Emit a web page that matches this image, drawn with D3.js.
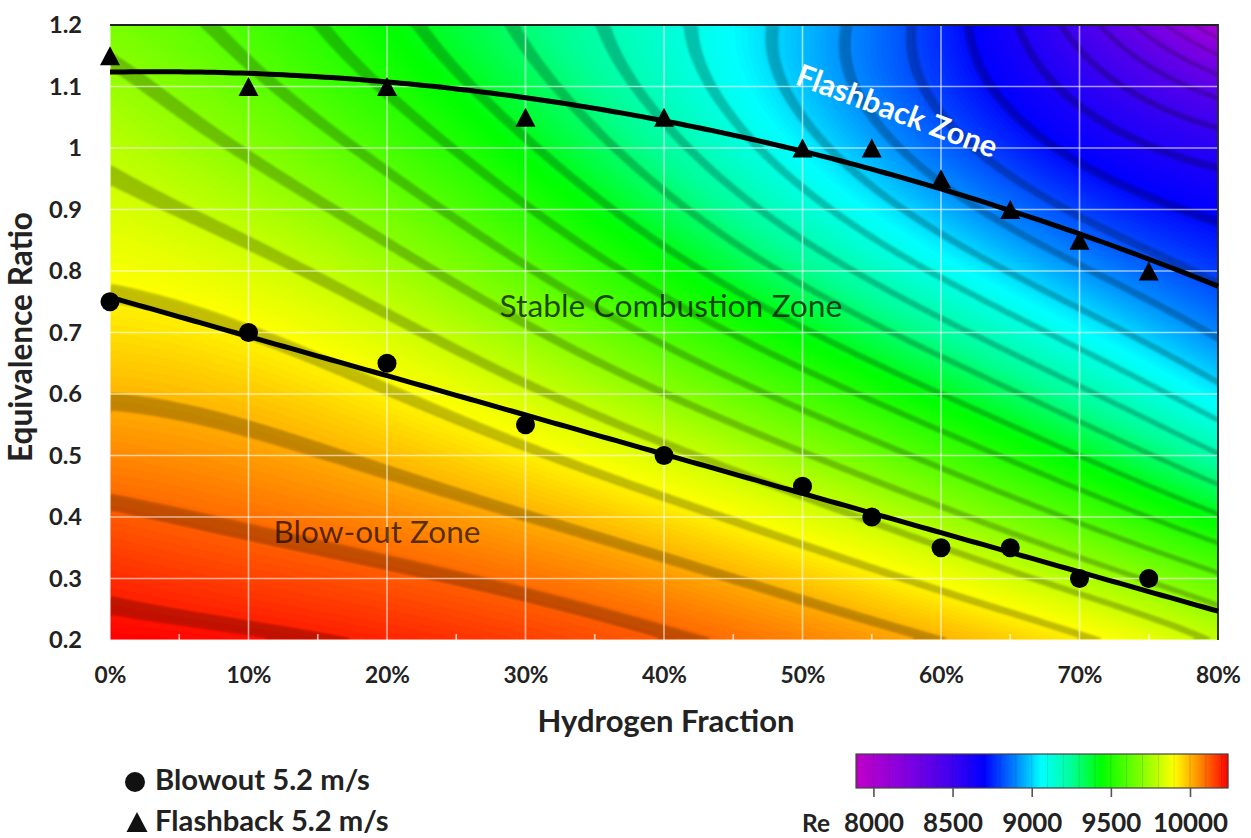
<!DOCTYPE html>
<html>
<head>
<meta charset="utf-8">
<script src="https://cdn.jsdelivr.net/npm/d3@7"></script>
<style>
  html, body { margin: 0; padding: 0; background: #fff; }
  svg { display: block; font-family: Lato, "Open Sans", "DejaVu Sans", sans-serif; }
</style>
</head>
<body>
<svg id="chart" width="1251" height="838"></svg>
<script>
// ---- Data ---------------------------------------------------------------
// Reynolds number map: columns = hydrogen fraction (%), rows = equivalence ratio
const h2Fractions = [0, 10, 20, 30, 40, 50, 60, 70, 80];
const phiLevels = [0.2, 0.3, 0.4, 0.5, 0.6, 0.7, 0.8, 0.9, 1.0, 1.1, 1.2];
const reynolds = [
  [10240, 10215, 10195, 10165, 10125, 10065, 10000, 9930, 9790],  // phi 0.2
  [10185, 10160, 10125, 10085, 10040, 9970, 9900, 9775, 9640],    // phi 0.3
  [10125, 10095, 10060, 10010, 9940, 9830, 9720, 9560, 9410],     // phi 0.4
  [10060, 10030, 9985, 9915, 9820, 9710, 9570, 9420, 9220],       // phi 0.5
  [10000, 9970, 9920, 9840, 9730, 9600, 9440, 9240, 9020],        // phi 0.6
  [9945, 9905, 9840, 9740, 9590, 9440, 9240, 9070, 8900],         // phi 0.7
  [9890, 9845, 9740, 9605, 9445, 9255, 9070, 8935, 8820],         // phi 0.8
  [9840, 9775, 9650, 9510, 9330, 9120, 8930, 8790, 8660],         // phi 0.9
  [9785, 9700, 9575, 9430, 9250, 9060, 8860, 8685, 8540],         // phi 1.0
  [9730, 9630, 9500, 9355, 9190, 9000, 8790, 8590, 8390],         // phi 1.1
  [9680, 9565, 9440, 9300, 9140, 8960, 8710, 8500, 8000]          // phi 1.2
];

// Measured stability limits at 5.2 m/s
const blowoutH2 = [0, 10, 20, 30, 40, 50, 55, 60, 65, 70, 75];
const blowoutPhi = [0.75, 0.70, 0.65, 0.55, 0.50, 0.45, 0.40, 0.35, 0.35, 0.30, 0.30];
const flashbackH2 = [0, 10, 20, 30, 40, 50, 55, 60, 65, 70, 75];
const flashbackPhi = [1.15, 1.10, 1.10, 1.05, 1.05, 1.00, 1.00, 0.95, 0.90, 0.85, 0.80];

// Axis ticks
const xTicks = [0, 10, 20, 30, 40, 50, 60, 70, 80];
const xMinorTicks = [5, 15, 25, 35, 45, 55, 65, 75];
const yTicks = [0.2, 0.3, 0.4, 0.5, 0.6, 0.7, 0.8, 0.9, 1.0, 1.1, 1.2];
const reTicks = [8000, 8500, 9000, 9500, 10000];

// Colour map for Re
const reStops  = [7890, 8215, 8490, 8700, 8890, 9060, 9250, 9440, 9690, 9900, 10030, 10240];
const reColors = ["#c000c8", "#8000e0", "#4000f0", "#0000ff", "#0080ff", "#00ffff",
                  "#00ff99", "#00ff00", "#80ff00", "#ffff00", "#ffa000", "#ff0000"];
const reLevelStep = 100;   // iso-Re line spacing

// ---- Layout -------------------------------------------------------------
const plot = { left: 110, right: 1218, top: 25, bottom: 640 };
const svg = d3.select("#chart");

const x = d3.scaleLinear().domain([0, 80]).range([plot.left, plot.right]);
const y = d3.scaleLinear().domain([0.2, 1.2]).range([plot.bottom, plot.top]);
const color = d3.scaleLinear().domain(reStops).range(reColors)
  .interpolate(d3.interpolateRgb).clamp(true);

const defs = svg.append("defs");
defs.append("clipPath").attr("id", "plotClip")
  .append("rect")
  .attr("x", plot.left).attr("y", plot.top)
  .attr("width", plot.right - plot.left).attr("height", plot.bottom - plot.top);
defs.append("filter").attr("id", "soft")
  .attr("x", "-5%").attr("y", "-5%").attr("width", "110%").attr("height", "110%")
  .append("feGaussianBlur").attr("stdDeviation", 1.2);

// ---- Linear algebra helper ------------------------------------------------
function solve(M, b) {
  const n = b.length;
  const A = M.map((row, i) => row.concat([b[i]]));
  for (let c = 0; c < n; c++) {
    let p = c;
    for (let r = c + 1; r < n; r++) if (Math.abs(A[r][c]) > Math.abs(A[p][c])) p = r;
    const tmp = A[c]; A[c] = A[p]; A[p] = tmp;
    for (let r = 0; r < n; r++) {
      if (r === c) continue;
      const f = A[r][c] / A[c][c];
      for (let k = c; k <= n; k++) A[r][k] -= f * A[c][k];
    }
  }
  return A.map((row, i) => row[n] / row[i]);
}
function leastSquares(basisRows, targets) {
  const m = basisRows[0].length;
  const M = Array.from({ length: m }, () => new Array(m).fill(0));
  const b = new Array(m).fill(0);
  basisRows.forEach((row, k) => {
    for (let r = 0; r < m; r++) {
      b[r] += row[r] * targets[k];
      for (let c = 0; c < m; c++) M[r][c] += row[r] * row[c];
    }
  });
  return solve(M, b);
}

// ---- Smooth Re surface (least-squares fit through the grid) ------------
const hSpan = d3.extent(h2Fractions), pSpan = d3.extent(phiLevels);
const surfTerms = [];
for (let a = 0; a <= 4; a++) for (let b = 0; b <= 4; b++) surfTerms.push([a, b]);
const surfBasis = (h, phi) => {
  const u = (h - hSpan[0]) / (hSpan[1] - hSpan[0]);
  const v = (phi - pSpan[0]) / (pSpan[1] - pSpan[0]);
  return surfTerms.map(([a, b]) => Math.pow(u, a) * Math.pow(v, b));
};
const gridRows = [], gridVals = [];
phiLevels.forEach((phi, j) => h2Fractions.forEach((h, i) => {
  gridRows.push(surfBasis(h, phi));
  gridVals.push(reynolds[j][i]);
}));
const surfCoef = leastSquares(gridRows, gridVals);
const reAt = (h, phi) => surfBasis(h, phi).reduce((s, t, k) => s + t * surfCoef[k], 0);

// sample the surface on a fine raster covering the plot
const cell = 4;
const gw = Math.ceil((plot.right - plot.left) / cell);
const gh = Math.ceil((plot.bottom - plot.top) / cell);
const cw = (plot.right - plot.left) / gw, ch = (plot.bottom - plot.top) / gh;
const values = new Float64Array(gw * gh);
for (let j = 0; j < gh; j++) {
  const phi = y.invert(plot.top + (j + 0.5) * ch);
  for (let i = 0; i < gw; i++) {
    const h = x.invert(plot.left + (i + 0.5) * cw);
    values[j * gw + i] = reAt(h, phi);
  }
}
const contours = d3.contours().size([gw, gh]);
const gridToPx = d3.geoTransform({
  point(px, py) { this.stream.point(plot.left + px * cw, plot.top + py * ch); }
});
const geo = d3.geoPath(gridToPx);

const field = svg.append("g").attr("clip-path", "url(#plotClip)");
const vMin = d3.min(values), vMax = d3.max(values);
field.append("rect")
  .attr("x", plot.left).attr("y", plot.top)
  .attr("width", plot.right - plot.left).attr("height", plot.bottom - plot.top)
  .attr("fill", color(vMin));
const fillStep = 8;
const fillLevels = d3.range(Math.ceil(vMin / fillStep) * fillStep, vMax, fillStep);
field.append("g").selectAll("path")
  .data(fillLevels)
  .join("path")
  .attr("d", t => geo(contours.contour(values, t)))
  .attr("fill", t => color(t + fillStep / 2))
  .attr("stroke", t => color(t + fillStep / 2))
  .attr("stroke-width", 0.6);

// darker iso-Re bands
const bandWidth = 17;
const bandLevels = d3.range(Math.ceil(vMin / reLevelStep) * reLevelStep, vMax, reLevelStep);
field.append("g")
  .attr("filter", "url(#soft)")
  .selectAll("path")
  .data(bandLevels)
  .join("path")
  .attr("d", t => geo(contours.contour(values, t)) + geo(contours.contour(values, t + bandWidth)))
  .attr("fill-rule", "evenodd")
  .attr("fill", "#000")
  .attr("fill-opacity", 0.24);

// ---- Gridlines ----------------------------------------------------------
const grid = svg.append("g").attr("clip-path", "url(#plotClip)");
grid.selectAll("line.v").data(xTicks).join("line")
  .attr("x1", d => x(d)).attr("x2", d => x(d))
  .attr("y1", plot.top).attr("y2", plot.bottom)
  .attr("stroke", "#fff").attr("stroke-opacity", 0.6).attr("stroke-width", 1.6);
grid.selectAll("line.h").data(yTicks).join("line")
  .attr("y1", d => y(d)).attr("y2", d => y(d))
  .attr("x1", plot.left).attr("x2", plot.right)
  .attr("stroke", "#fff").attr("stroke-opacity", 0.6).attr("stroke-width", 1.6);
grid.selectAll("line.m").data(xMinorTicks).join("line")
  .attr("x1", d => x(d)).attr("x2", d => x(d))
  .attr("y1", plot.bottom - 6).attr("y2", plot.bottom)
  .attr("stroke", "#fff").attr("stroke-opacity", 0.7).attr("stroke-width", 1.6);

// plot frame (top and right edges)
svg.append("path")
  .attr("d", `M${plot.left},${plot.top}H${plot.right}V${plot.bottom}`)
  .attr("fill", "none").attr("stroke", "#222").attr("stroke-width", 1.8);

// ---- Trend lines (least squares) ---------------------------------------
const polyfit = (xs, ys, deg) =>
  leastSquares(xs.map(v => d3.range(deg + 1).map(p => Math.pow(v, p))), ys);
const evalPoly = (co, xv) => co.reduce((s, c, i) => s + c * Math.pow(xv, i), 0);
const blowoutFit = polyfit(blowoutH2, blowoutPhi, 1);
const flashbackFit = polyfit(flashbackH2, flashbackPhi, 2);
const fitX = d3.range(0, 80.01, 0.5);
const line = d3.line().x(d => x(d[0])).y(d => y(d[1]));
svg.append("path")
  .attr("d", line(fitX.map(h => [h, evalPoly(blowoutFit, h)])))
  .attr("fill", "none").attr("stroke", "#000").attr("stroke-width", 5);
svg.append("path")
  .attr("d", line(fitX.map(h => [h, evalPoly(flashbackFit, h)])))
  .attr("fill", "none").attr("stroke", "#000").attr("stroke-width", 5);

// ---- Markers -------------------------------------------------------------
const triPath = (cx, cy, w, hgt) =>
  `M${cx},${cy - hgt / 2}L${cx + w / 2},${cy + hgt / 2}L${cx - w / 2},${cy + hgt / 2}Z`;
svg.append("g").selectAll("circle")
  .data(blowoutH2.map((h, i) => [h, blowoutPhi[i]]))
  .join("circle")
  .attr("cx", d => x(d[0])).attr("cy", d => y(d[1])).attr("r", 9.5)
  .attr("fill", "#000");
svg.append("g").selectAll("path")
  .data(flashbackH2.map((h, i) => [h, flashbackPhi[i]]))
  .join("path")
  .attr("d", d => triPath(x(d[0]), y(d[1]), 20, 19))
  .attr("fill", "#000");

// ---- Text helpers ---------------------------------------------------------
// scale the font size so the text spans the wanted width
function fitTo(sel, size, width) {
  sel.attr("font-size", size);
  const w = sel.node().getComputedTextLength();
  sel.attr("font-size", size * width / w);
  return size * width / w;
}

// ---- Axes ----------------------------------------------------------------
const fmtPhi = d => String(+d.toFixed(1));
const yAxis = svg.append("g")
  .attr("transform", `translate(${plot.left},0)`)
  .call(d3.axisLeft(y).tickValues(yTicks).tickSize(0).tickPadding(28).tickFormat(fmtPhi));
const xAxis = svg.append("g")
  .attr("transform", `translate(0,${plot.bottom})`)
  .call(d3.axisBottom(x).tickValues(xTicks).tickSize(0).tickPadding(27).tickFormat(d => d + "%"));
[yAxis, xAxis].forEach(a => {
  a.select(".domain").remove();
  a.selectAll("text")
    .attr("font-family", "Lato, 'Open Sans', sans-serif")
    .attr("font-weight", "bold").attr("fill", "#222");
});
{
  const fy = fitTo(yAxis.selectAll("text").filter(d => Math.abs(d - 0.9) < 1e-9), 20, 33);
  yAxis.selectAll("text").attr("font-size", fy);
  const fx = fitTo(xAxis.selectAll("text").filter(d => d === 10), 20, 45);
  xAxis.selectAll("text").attr("font-size", fx);
}

const xTitle = svg.append("text")
  .attr("x", 666).attr("y", 732).attr("text-anchor", "middle")
  .attr("font-weight", "bold").attr("fill", "#222")
  .text("Hydrogen Fraction");
fitTo(xTitle, 24, 257);

const yTitle = svg.append("text")
  .attr("transform", "translate(32,337) rotate(-90)")
  .attr("text-anchor", "middle")
  .attr("font-weight", "bold").attr("fill", "#222")
  .text("Equivalence Ratio");
fitTo(yTitle, 24, 250);

// ---- Zone labels ------------------------------------------------------------
const stable = svg.append("text")
  .attr("x", 671).attr("y", 317).attr("text-anchor", "middle")
  .attr("fill", "#000").attr("fill-opacity", 0.72)
  .text("Stable Combustion Zone");
fitTo(stable, 28, 343);

const blow = svg.append("text")
  .attr("x", 377).attr("y", 543).attr("text-anchor", "middle")
  .attr("fill", "#000").attr("fill-opacity", 0.68)
  .text("Blow-out Zone");
fitTo(blow, 28, 207);

const flash = svg.append("text")
  .attr("transform", "translate(897,111) rotate(20.5)")
  .attr("text-anchor", "middle").attr("dy", "0.35em")
  .attr("font-weight", "bold").attr("fill", "#fff")
  .text("Flashback Zone");
fitTo(flash, 24, 212);

// ---- Legend ----------------------------------------------------------------
const legend = svg.append("g");
legend.append("circle").attr("cx", 135).attr("cy", 782).attr("r", 10).attr("fill", "#111");
legend.append("path").attr("d", triPath(137, 822, 21, 20)).attr("fill", "#111");
const l1 = legend.append("text").attr("x", 155).attr("y", 790)
  .attr("font-weight", "bold").attr("fill", "#222")
  .text("Blowout 5.2 m/s");
const lf = fitTo(l1, 26, 215);
legend.append("text").attr("x", 155).attr("y", 831)
  .attr("font-weight", "bold").attr("fill", "#222").attr("font-size", lf)
  .text("Flashback 5.2 m/s");

// ---- Colour bar --------------------------------------------------------------
const cb = { left: 856, right: 1228, top: 754, bottom: 788 };
const reX = d3.scaleLinear().domain([reStops[0], reStops[reStops.length - 1]]).range([cb.left, cb.right]);
const cbg = svg.append("g");
const strips = d3.range(cb.left, cb.right, 1);
cbg.selectAll("rect.s").data(strips).join("rect")
  .attr("x", d => d).attr("y", cb.top).attr("width", 1.2).attr("height", cb.bottom - cb.top)
  .attr("fill", d => color(reX.invert(d + 0.5)));
const blockEdges = d3.range(Math.ceil(reStops[0] / reLevelStep) * reLevelStep, reStops[reStops.length - 1], reLevelStep);
cbg.selectAll("line.b").data(blockEdges).join("line")
  .attr("x1", d => reX(d)).attr("x2", d => reX(d))
  .attr("y1", cb.top).attr("y2", cb.bottom)
  .attr("stroke", "#000").attr("stroke-opacity", 0.12).attr("stroke-width", 1);
cbg.append("rect")
  .attr("x", cb.left).attr("y", cb.top).attr("width", cb.right - cb.left).attr("height", cb.bottom - cb.top)
  .attr("fill", "none").attr("stroke", "#444").attr("stroke-width", 1.2);
const cbAxis = svg.append("g")
  .attr("transform", `translate(0,${cb.bottom})`)
  .call(d3.axisBottom(reX).tickValues(reTicks).tickSize(9).tickPadding(17).tickFormat(d3.format("d")));
cbAxis.select(".domain").remove();
cbAxis.selectAll(".tick line").attr("stroke", "#555").attr("stroke-width", 1.6);
cbAxis.selectAll("text")
  .attr("font-family", "Lato, 'Open Sans', sans-serif")
  .attr("font-weight", "bold").attr("fill", "#222");
{
  const fc = fitTo(cbAxis.selectAll("text").filter(d => d === 8000), 22, 60);
  cbAxis.selectAll("text").attr("font-size", fc);
}
const reLabel = svg.append("text").attr("x", 816).attr("y", 832).attr("text-anchor", "middle")
  .attr("font-weight", "bold").attr("fill", "#222").text("Re");
fitTo(reLabel, 22, 28);
</script>
</body>
</html>
